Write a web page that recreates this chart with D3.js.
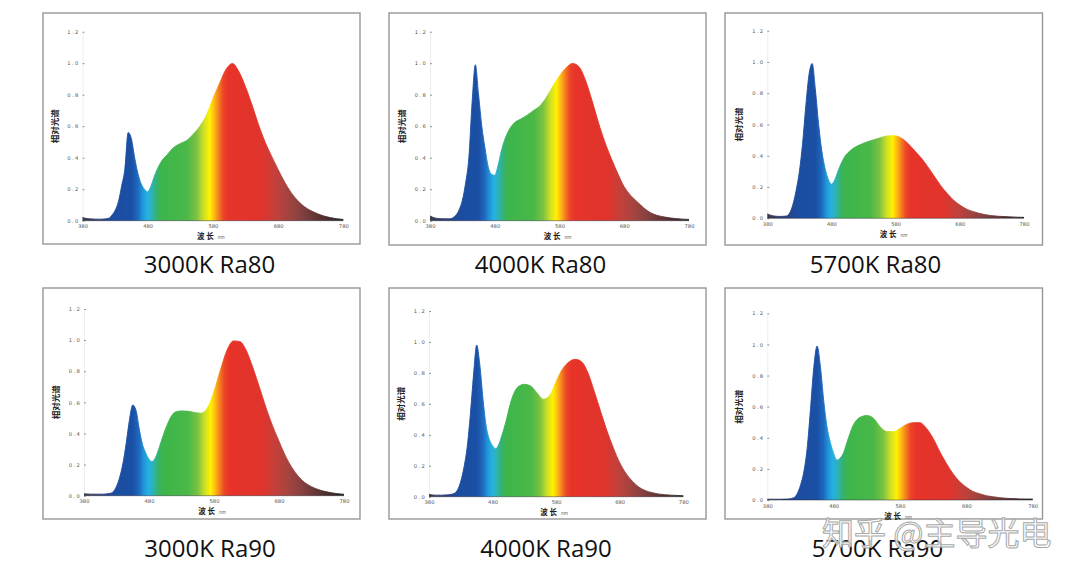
<!DOCTYPE html>
<html><head><meta charset="utf-8">
<script src="https://cdn.jsdelivr.net/npm/d3@7"></script>
<style>body{margin:0;background:#fff}svg{display:block}</style>
</head><body>
<svg id="c" width="1080" height="577"></svg>
<script>
// ---- data ----
const categories = ["3000K Ra80","4000K Ra80","5700K Ra80","3000K Ra90","4000K Ra90","5700K Ra90"];
const wavelengths = [380,390,400,410,
  420,425,430,435,440,445,450,455,460,465,470,475,480,485,490,495,500,
  510,520,530,540,550,560,570,580,590,600,610,620,630,640,650,660,670,680,690,700,710,720,730,740,750,760,770,780];
const s3000Ra80 = [0.02,0.012,0.01,0.01,
  0.015,0.035,0.065,0.12,0.22,0.33,0.56,0.52,0.4,0.3,0.235,0.2,0.184,0.22,0.28,0.33,0.37,
  0.42,0.465,0.49,0.51,0.55,0.6,0.67,0.775,0.87,0.96,0.998,0.945,0.85,0.735,0.61,0.5,0.41,0.325,0.245,0.178,0.128,0.09,0.064,0.045,0.03,0.02,0.012,0.008];
const s4000Ra80 = [0.03,0.015,0.012,0.012,
  0.035,0.07,0.13,0.24,0.4,0.75,0.99,0.8,0.6,0.46,0.34,0.295,0.288,0.35,0.44,0.51,0.56,
  0.62,0.645,0.67,0.7,0.73,0.785,0.855,0.92,0.97,0.998,0.978,0.893,0.766,0.625,0.5,0.395,0.3,0.215,0.16,0.12,0.082,0.052,0.035,0.025,0.018,0.013,0.01,0.008];
const s5700Ra80 = [0.028,0.015,0.012,0.015,
  0.09,0.18,0.3,0.48,0.72,0.92,0.99,0.82,0.6,0.43,0.32,0.25,0.218,0.245,0.3,0.35,0.39,
  0.435,0.462,0.48,0.495,0.508,0.52,0.528,0.527,0.51,0.476,0.43,0.385,0.33,0.27,0.21,0.16,0.117,0.085,0.06,0.044,0.032,0.023,0.017,0.013,0.011,0.009,0.007,0.006];
const s3000Ra90 = [0.012,0.01,0.01,0.01,
  0.015,0.026,0.06,0.12,0.21,0.34,0.49,0.583,0.55,0.43,0.33,0.275,0.235,0.22,0.245,0.3,0.365,
  0.476,0.537,0.545,0.543,0.535,0.53,0.565,0.67,0.81,0.935,0.995,0.99,0.93,0.82,0.695,0.565,0.45,0.35,0.255,0.18,0.123,0.083,0.058,0.04,0.028,0.019,0.013,0.009];
const s4000Ra90 = [0.015,0.01,0.01,0.012,
  0.022,0.045,0.1,0.19,0.32,0.53,0.786,0.98,0.85,0.63,0.455,0.37,0.33,0.31,0.34,0.4,0.47,
  0.63,0.71,0.726,0.715,0.67,0.63,0.655,0.745,0.825,0.87,0.888,0.872,0.8,0.68,0.55,0.425,0.315,0.22,0.15,0.1,0.062,0.04,0.027,0.018,0.013,0.01,0.008,0.006];
const s5700Ra90 = [0.005,0.005,0.005,0.006,
  0.015,0.04,0.095,0.18,0.33,0.58,0.85,0.99,0.86,0.64,0.47,0.37,0.3,0.257,0.27,0.305,0.37,
  0.485,0.532,0.543,0.525,0.471,0.44,0.439,0.46,0.486,0.497,0.497,0.46,0.396,0.31,0.235,0.168,0.118,0.082,0.055,0.04,0.028,0.021,0.015,0.011,0.009,0.007,0.006,0.006];
const seriesList = [s3000Ra80,s4000Ra80,s5700Ra80,s3000Ra90,s4000Ra90,s5700Ra90];
const xTicks = [380,480,580,680,780];
const yTicks = [0,0.2,0.4,0.6,0.8,1.0,1.2];
const yTitle = "相对光谱";
const xTitle = "波  长";
const xUnit = "nm";
const watermark = "知乎 @主导光电";

// ---- style / layout ----
const specNm  = [380,410,425,455,465,472,479,486,494,502,540,555,566,575,582,589,596,604,655,675,695,715,740,762,780];
const specCol = ["#3a3a4a","#2a3f80","#1c4c9e","#1a50a5","#1e6ac0","#2096d8","#26b0e4","#2db3b5","#36b26c","#3db54a","#4ab848","#7cc242","#cfe026","#fff200","#fdb913","#f47c20","#ec4527","#e8332a","#df342c","#c4403b","#a4443f","#854140","#5e3433","#3e2a2a","#262222"];
const layout = [
 {fx:43, fy:13, fw:317, fh:231, x0:82.5, x1:343.3, y0:220.7, y1:31.7, cx:209.5, cy:273.3},
 {fx:389, fy:13, fw:317, fh:232, x0:430, x1:689, y0:220.7, y1:31.7, cx:540.5, cy:273.3},
 {fx:725, fy:13, fw:317.5, fh:232, x0:767.3, x1:1024, y0:218.3, y1:30.7, cx:875.5, cy:273.3},
 {fx:43, fy:288, fw:317, fh:231, x0:84, x1:344, y0:495.7, y1:309, cx:210, cy:557},
 {fx:389, fy:288, fw:317, fh:231, x0:429, x1:683.3, y0:496.7, y1:311, cx:546, cy:557},
 {fx:725, fy:288, fw:317.5, fh:231, x0:767.3, x1:1032.7, y0:500, y1:313.3, cx:877.5, cy:557}
];

const svg = d3.select("#c");
const defs = svg.append("defs");
const CJK = "'Noto Sans CJK SC','Noto Sans',sans-serif";

layout.forEach((L, i) => {
  const x = d3.scaleLinear().domain([380,780]).range([L.x0, L.x1]);
  const y = d3.scaleLinear().domain([0,1.2]).range([L.y0, L.y1]);
  const data = wavelengths.map((nm,k) => ({nm, v: seriesList[i][k]}));

  svg.append("rect").attr("x",L.fx).attr("y",L.fy).attr("width",L.fw).attr("height",L.fh)
    .attr("fill","#fff").attr("stroke","#979797").attr("stroke-width",1.4);

  const gid = "spec"+i;
  const g = defs.append("linearGradient").attr("id",gid).attr("gradientUnits","userSpaceOnUse")
    .attr("x1",x(380)).attr("x2",x(780)).attr("y1",0).attr("y2",0);
  specNm.forEach((nm,k)=> g.append("stop").attr("offset",(nm-380)/400).attr("stop-color",specCol[k]));

  const ya = svg.append("g").attr("transform",`translate(${L.x0},0)`)
    .call(d3.axisLeft(y).tickValues(yTicks).tickFormat(d3.format(".1f")).tickSizeInner(-2).tickSizeOuter(0).tickPadding(3));
  ya.select(".domain").attr("stroke","#e2e2e2").attr("stroke-width",0.6);
  ya.selectAll(".tick line").attr("stroke","#777").attr("stroke-width",0.8);
  ya.selectAll("text").attr("font-family","'DejaVu Sans',sans-serif").attr("font-size",5.2)
    .attr("letter-spacing",1.3).attr("fill","#555");

  const area = d3.area().x(d=>x(d.nm)).y0(y(0)).y1(d=>y(d.v)).curve(d3.curveMonotoneX);
  const line = d3.line().x(d=>x(d.nm)).y(d=>y(d.v)).curve(d3.curveMonotoneX);
  svg.append("path").datum(data).attr("d",area).attr("fill",`url(#${gid})`);
  svg.append("path").datum(data).attr("d",line).attr("fill","none")
    .attr("stroke",`url(#${gid})`).attr("stroke-width",0.9);
  svg.append("line").attr("x1",x(380)).attr("x2",x(780)).attr("y1",y(0)).attr("y2",y(0))
    .attr("stroke","#2a2a35").attr("stroke-width",0.8).attr("opacity",0.6);

  const xa = svg.append("g").attr("transform",`translate(0,${L.y0})`)
    .call(d3.axisBottom(x).tickValues(xTicks).tickSize(0).tickPadding(4));
  xa.select(".domain").remove();
  xa.selectAll("text").attr("font-family","'DejaVu Sans',sans-serif").attr("font-size",5.2).attr("fill","#555");

  const xt = svg.append("text").attr("x",(L.x0+L.x1)/2 - 2).attr("y",L.y0+18.5)
    .attr("text-anchor","middle").attr("font-family",CJK).attr("fill","#222");
  xt.append("tspan").attr("font-size",7.5).attr("font-weight","bold").text(xTitle);
  xt.append("tspan").attr("font-size",4.5).attr("dx",4).attr("fill","#666").text(xUnit);
  svg.append("text").attr("transform",`translate(${L.x0-25},${y(0.6)}) rotate(-90)`)
    .attr("text-anchor","middle").attr("font-family",CJK).attr("font-size",8.5)
    .attr("font-weight","bold").attr("fill","#222").text(yTitle);

  svg.append("text").attr("x",L.cx).attr("y",L.cy).attr("text-anchor","middle")
    .attr("font-family","'Open Sans',sans-serif").attr("font-size",24).attr("fill","#111").text(categories[i]);
});

svg.append("text").attr("x",822).attr("y",545).attr("font-family",CJK).attr("font-size",32)
  .attr("fill","#fff").attr("fill-opacity",0.8).attr("stroke","#a8a8a8").attr("stroke-width",1)
  .text(watermark);
</script>
</body></html>
